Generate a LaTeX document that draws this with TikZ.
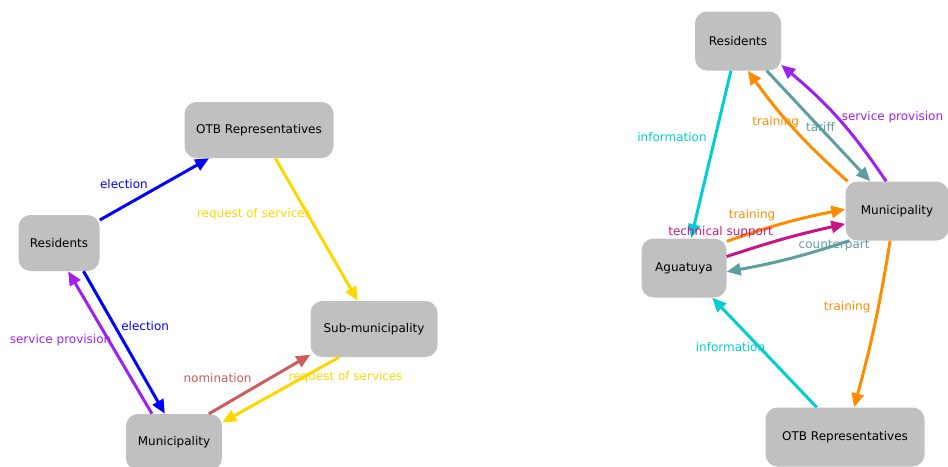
\documentclass[tikz,border=0pt]{standalone}
\usepackage{fontspec}
\setmainfont{DejaVu Sans}
\usetikzlibrary{arrows.meta}
\definecolor{boxgray}{RGB}{192,192,192}
\definecolor{elecblue}{RGB}{0,0,255}
\definecolor{servpurple}{RGB}{160,32,240}
\definecolor{reqgold}{RGB}{255,215,0}
\definecolor{nomred}{RGB}{205,92,92}
\definecolor{infocyan}{RGB}{0,206,209}
\definecolor{trainorange}{RGB}{255,140,0}
\definecolor{tariffteal}{RGB}{95,158,160}
\definecolor{techmagenta}{RGB}{199,21,133}
\begin{document}
\begin{tikzpicture}[x=1pt, y=-1pt]
\tikzstyle{box}=[fill=boxgray, rounded corners=12pt, minimum height=56pt, inner sep=0pt, font=\fontsize{12}{14}\selectfont];
\tikzstyle{lab}=[inner sep=0pt, font=\fontsize{12}{14}\selectfont];
\tikzstyle{rel}=[line width=3pt, -{Triangle[length=14pt,width=12pt]}];
\useasboundingbox (0,0) rectangle (948,466);
% left graph
\node[box, minimum width=149pt] (otb1) at (259,130) {OTB Representatives};
\node[box, minimum width=81pt] (res1) at (59,243) {Residents};
\node[box, minimum width=127pt] (sub1) at (374,329) {Sub-municipality};
\node[box, minimum width=96pt] (mun1) at (174,442) {Municipality};
\draw[rel, elecblue] (res1) -- node[lab, xshift=-30.5pt, yshift=5pt] {election} (otb1);
\draw[rel, elecblue] (res1.-49) -- node[lab, xshift=21pt, yshift=16pt] {election} (mun1.108);
\draw[rel, servpurple] (mun1.128) -- node[lab, xshift=-49.5pt, yshift=2pt] {service provision} (res1.-72);
\draw[rel, reqgold] (otb1) -- node[lab, xshift=-62.5pt, yshift=15pt] {request of services} (sub1);
\draw[rel, nomred] (mun1.39) -- node[lab, xshift=-42pt, yshift=6pt] {nomination} (sub1.202);
\draw[rel, reqgold] (sub1.219) -- node[lab, xshift=65pt, yshift=12.5pt] {request of services} (mun1.22);
% right graph
\node[box, minimum width=86pt, minimum height=59pt] (res2) at (738,41) {Residents};
\node[box, minimum width=103pt, minimum height=59pt] (mun2) at (897,211) {Municipality};
\node[box, minimum width=85pt, minimum height=59pt] (agu2) at (684,268) {Aguatuya};
\node[box, minimum width=159pt, minimum height=59pt] (otb2) at (845,437) {OTB Representatives};
\draw[rel, infocyan] (res2) -- node[lab, xshift=-39pt, yshift=17pt] {information} (agu2);
\draw[rel, trainorange] (mun2.149) to[bend left=6] node[lab, xshift=-18.5pt, yshift=6.7pt] {training} (res2.-72);
\draw[rel, tariffteal] (res2.-46) -- node[lab, xshift=2pt, yshift=-1pt] {tariff} (mun2.132);
\draw[rel, servpurple] (mun2.110) to[bend right=8] node[lab, xshift=54pt, yshift=1.5pt] {service provision} (res2.-29);
\draw[rel, trainorange] (agu2.32) to[bend left=4] node[lab, xshift=-33.3pt, yshift=7.4pt] {training} (mun2.178);
\draw[rel, techmagenta] (agu2.15) to[bend left=3] node[lab, xshift=-65pt, yshift=6.5pt] {technical support} (mun2.194);
\draw[rel, tariffteal] (mun2.212) to[bend left=4] node[lab, xshift=45.4pt, yshift=13.4pt] {counterpart} (agu2.-5);
\draw[rel, trainorange] (mun2.257) to[bend left=3] node[lab, xshift=-27.5pt, yshift=17.5pt] {training} (otb2.73);
\draw[rel, infocyan] (otb2) -- node[lab, xshift=-34pt, yshift=5pt] {information} (agu2);
\end{tikzpicture}
\end{document}
